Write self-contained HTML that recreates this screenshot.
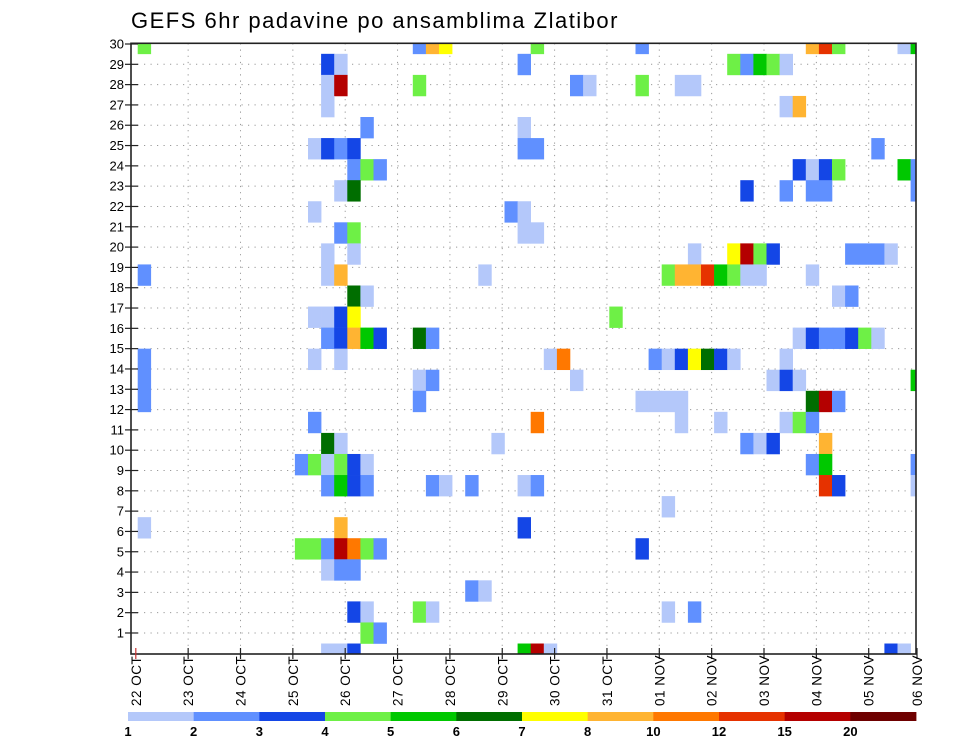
<!DOCTYPE html>
<html><head><meta charset="utf-8"><style>
html,body{margin:0;padding:0;background:#fff;}
svg{display:block;font-family:"Liberation Sans",sans-serif;}
</style></head><body>
<svg id="chart" width="960" height="742" viewBox="0 0 960 742" xmlns="http://www.w3.org/2000/svg">
<defs><clipPath id="plotclip"><rect x="131" y="43.3" width="785" height="610.7"/></clipPath></defs>
<text x="131" y="28" font-size="22" letter-spacing="1.5" fill="#000">GEFS 6hr padavine po ansamblima Zlatibor</text>
<g id="grid"></g>
<g id="cells" clip-path="url(#plotclip)"></g>
<rect x="131" y="43.3" width="785" height="610.7" fill="none" stroke="#222" stroke-width="1.6"/>
<g id="axes"></g>
<g id="legend"></g>
</svg>
<script>
// Data: row index j (0 = member 30 at top), time column k (6-hour steps from 22 OCT 00z), precip value (mm)
const cellRow = [
0,0,0,0,0,0,0,0,0,0,0,
1,1,1,1,1,1,1,1,
2,2,2,2,2,2,2,2,
3,3,3,
4,4,
5,5,5,5,5,5,5,
6,6,6,6,6,6,6,6,6,
7,7,7,7,7,7,7,
8,8,8,
9,9,9,9,
10,10,10,10,10,10,10,10,10,10,10,
11,11,11,11,11,11,11,11,11,11,11,11,11,
12,12,12,12,
13,13,13,13,13,
14,14,14,14,14,14,14,14,14,14,14,14,14,14,
15,15,15,15,15,15,15,15,15,15,15,15,15,
16,16,16,16,16,16,16,16,
17,17,17,17,17,17,17,17,17,
18,18,18,18,18,18,18,
19,19,19,19,19,19,19,
20,20,20,20,20,20,20,20,20,
21,21,21,21,21,21,21,21,21,21,21,21,
22,
23,23,23,
24,24,24,24,24,24,24,24,
25,25,25,
26,26,
27,27,27,27,27,27,
28,28,
29,29,29,29,29,29,29,29];
const cellCol = [
0,21,22,23,30,38,51,52,53,58,59,
14,15,29,45,46,47,48,49,
14,15,21,33,34,38,41,42,
14,49,50,
17,29,
13,14,15,16,29,30,56,
16,17,18,50,51,52,53,58,59,
15,16,46,49,51,52,59,
13,28,29,
15,16,29,30,
14,16,42,45,46,47,48,54,55,56,57,
0,14,15,26,40,41,42,43,44,45,46,47,51,
16,17,53,54,
13,14,15,16,36,
14,15,16,17,18,21,22,50,51,52,53,54,55,56,
0,13,15,31,32,39,40,41,42,43,44,45,49,
0,21,22,33,48,49,50,59,
0,21,38,39,40,41,51,52,53,
13,30,41,44,49,50,51,
14,15,27,46,47,48,52,
12,13,14,15,16,17,51,52,59,
14,15,16,17,22,23,25,29,30,52,53,59,
40,
0,15,29,
12,13,14,15,16,17,18,38,
14,15,16,
25,26,
16,17,21,22,40,42,
17,18,
14,15,16,29,30,31,57,58];
const cellVal = [
4.5,2.5,9,7.5,4.5,2.5,9,13.5,4.5,1.5,5.5,
3.5,1.5,2.5,4.5,2.5,5.5,4.5,1.5,
1.5,17.5,4.5,2.5,1.5,4.5,1.5,1.5,
1.5,1.5,9,
2.5,1.5,
1.5,3.5,2.5,3.5,2.5,2.5,2.5,
2.5,4.5,2.5,3.5,1.5,3.5,4.5,5.5,2.5,
1.5,6.5,3.5,2.5,2.5,2.5,2.5,
1.5,2.5,1.5,
2.5,4.5,1.5,1.5,
1.5,1.5,1.5,7.5,17.5,4.5,3.5,2.5,2.5,2.5,1.5,
2.5,1.5,9,1.5,4.5,9,9,13.5,5.5,4.5,1.5,1.5,1.5,
6.5,1.5,1.5,2.5,
1.5,1.5,3.5,7.5,4.5,
2.5,3.5,9,5.5,3.5,6.5,2.5,1.5,3.5,2.5,2.5,3.5,4.5,1.5,
2.5,1.5,1.5,1.5,11,2.5,1.5,3.5,7.5,6.5,3.5,1.5,1.5,
2.5,1.5,2.5,1.5,1.5,3.5,1.5,5.5,
2.5,2.5,1.5,1.5,1.5,1.5,6.5,17.5,2.5,
2.5,11,1.5,1.5,1.5,4.5,2.5,
6.5,1.5,1.5,2.5,1.5,3.5,9,
2.5,4.5,1.5,4.5,3.5,1.5,2.5,5.5,2.5,
2.5,5.5,3.5,2.5,2.5,1.5,2.5,1.5,2.5,13.5,3.5,1.5,
1.5,
1.5,9,3.5,
4.5,4.5,2.5,17.5,11,4.5,2.5,3.5,
1.5,2.5,2.5,
2.5,1.5,
3.5,1.5,4.5,1.5,1.5,2.5,
4.5,2.5,
1.5,1.5,3.5,5.5,17.5,1.5,3.5,1.5];
const levels = [1,2,3,4,5,6,7,8,10,12,15,20];
const levelColors = ["#b4c8fa","#6090ff","#1446e6","#6ef046","#00c800","#006e00","#ffff00","#ffb432","#ff7800","#e63200","#b40000","#6e0000"];
const dayLabels = ["22 OCT","23 OCT","24 OCT","25 OCT","26 OCT","27 OCT","28 OCT","29 OCT","30 OCT","31 OCT","01 NOV","02 NOV","03 NOV","04 NOV","05 NOV","06 NOV"];
const memberLabels = [30,29,28,27,26,25,24,23,22,21,20,19,18,17,16,15,14,13,12,11,10,9,8,7,6,5,4,3,2,1];

const NS = "http://www.w3.org/2000/svg";
const PL = 131, PR = 916, PT = 43.3, PB = 654;
const colX = k => 137.7 + 13.1 * k;
const colW = 13.1;
const rowY = j => PT + 21.06 * j;
const rowH = 21.06;
const dayX = d => 135.8 + 52.35 * d;
const labelY = i => 44 + 20.31 * i;
function colorFor(v){let c=null;for(let i=0;i<levels.length;i++){if(v>=levels[i])c=levelColors[i];}return c;}
function mk(tag, attrs, parent){const e=document.createElementNS(NS,tag);for(const a in attrs)e.setAttribute(a,attrs[a]);parent.appendChild(e);return e;}

const grid = document.getElementById('grid');
for(let d=1; d<dayLabels.length-1; d++){
  const l = mk('line',{x1:dayX(d),x2:dayX(d),y1:PT,y2:PB,stroke:'#999','stroke-width':1,'stroke-dasharray':'1.2 5'},grid);
  
  
}
for(let i=1;i<memberLabels.length;i++){
  const l = mk('line',{x1:PL,x2:PR,y1:labelY(i),y2:labelY(i),stroke:'#999','stroke-width':1,'stroke-dasharray':'1.2 5.3'},grid);
  
  
}

const cg = document.getElementById('cells');
for(let i=0;i<cellVal.length;i++){
  const c = colorFor(cellVal[i]); if(!c) continue;
  const r = mk('rect',{x:colX(cellCol[i]),y:rowY(cellRow[i])-rowH/2,width:colW+0.3,height:rowH+0.3,fill:c},cg);
  
  
}

const ax = document.getElementById('axes');
memberLabels.forEach((m,i)=>{
  const y = labelY(i);
  const t = mk('line',{x1:125,x2:138,y1:y,y2:y,stroke:'#222','stroke-width':1.2},ax);
  
  
  const tx = mk('text',{x:124,y:y+4.5,'font-size':13,'text-anchor':'end',fill:'#000'},ax);
  tx.textContent = m;
  
  
});
dayLabels.forEach((lab,d)=>{
  const x = Math.min(dayX(d), 917);
  const t = mk('line',{x1:x,x2:x,y1:PB-6,y2:PB+5,stroke: d===0?'#c33':'#222','stroke-width':1.2},ax);
  
  
  const tx = mk('text',{x:0,y:0,'font-size':13.5,'letter-spacing':'0.5',fill:'#000',transform:'translate('+(x+5)+',706) rotate(-90)'},ax);
  tx.textContent = lab;
  
  
});

const lg = document.getElementById('legend');
const LX0 = 128, LW = (916-128)/levels.length;
levelColors.forEach((c,i)=>{
  const r = mk('rect',{x:LX0+i*LW,y:712,width:LW+0.4,height:9,fill:c},lg);
  
  
  const t = mk('text',{x:LX0+i*LW,y:736,'font-size':13,'font-weight':'bold','text-anchor':'middle',fill:'#000'},lg);
  t.textContent = levels[i];
  
  
});
</script>
</body></html>
